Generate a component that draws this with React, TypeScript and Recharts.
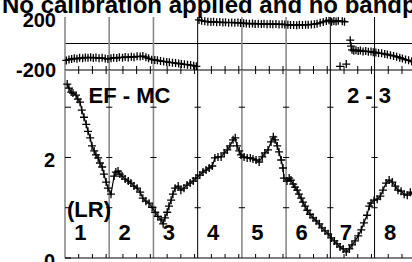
import { LineChart, Line, XAxis, YAxis, ReferenceLine } from "recharts";

const title = "No calibration applied and no bandpass applied";
const sections = ["1", "2", "3", "4", "5", "6", "7", "8"];
const baselineLabel = "EF - MC";
const pairLabel = "2 - 3";
const polLabel = "(LR)";

const phaseTicks = [-200, 200];
const ampTicks = [0, 1, 2, 3];
const ampTickLabels = ["0", "", "2", ""];

// phase (deg), null breaks the line at wraps
const phaseTime = [
  0.03, 0.09, 0.15, 0.21, 0.27, 0.33, 0.4, 0.46, 0.52, 0.58, 0.64, 0.7, 0.77, 0.84, 0.91, 0.97,
  1.04, 1.1, 1.17, 1.23, 1.3, 1.36, 1.43, 1.5, 1.56, 1.63, 1.7, 1.76, 1.83, 1.89, 1.96,
  2.03, 2.09, 2.16, 2.23, 2.3, 2.36, 2.43, 2.5, 2.57, 2.63, 2.7, 2.77, 2.84, 2.91, 2.97, 3.0,
  3.03, 3.09, 3.16, 3.23, 3.3, 3.36, 3.43, 3.5, 3.57, 3.63, 3.7, 3.77, 3.84, 3.91, 3.97,
  4.04, 4.1, 4.17, 4.24, 4.3, 4.37, 4.44, 4.5, 4.57, 4.64, 4.7, 4.77, 4.84, 4.91, 4.97,
  5.04, 5.1, 5.17, 5.24, 5.3, 5.37, 5.44, 5.5, 5.57, 5.64, 5.7, 5.77, 5.84, 5.91, 5.97,
  6.03, 6.08, 6.13, 6.18, 6.2, 6.22, 6.24, 6.27, 6.32, 6.34, 6.36, 6.4,
  6.45, 6.47, 6.49, 6.53, 6.58, 6.63, 6.68, 6.74, 6.8, 6.86, 6.92, 6.97,
  7.03, 7.09, 7.16, 7.23, 7.29, 7.36, 7.43, 7.5, 7.57, 7.63, 7.7, 7.77, 7.84, 7.9,
];
const phaseValue = [
  -128, -121, -117, -112, -115, -108, -111, -105, -108, -104, -109, -106, -112, -108, -114, -117,
  -112, -107, -110, -104, -107, -102, -105, -100, -103, -97, -99, -95, -103, -112, -122,
  -124, -127, -132, -135, -139, -142, -145, -148, -151, -154, -157, -160, -163, -167, -172, null,
  178, 172, 168, 164, 162, 164, 160, 162, 158, 160, 157, 159, 156, 158, 155,
  153, 151, 149, 151, 148, 150, 147, 149, 146, 148, 145, 147, 144, 146, 143,
  141, 139, 140, 138, 141, 139, 142, 141, 144, 146, 150, 156, 163, 170, 176,
  164, 170, 166, 172, null, -172, null, 168, 164, null, -155, null,
  25, -20, -48, -55, -50, -56, -53, -60, -57, -62, -61, -66,
  -68, -72, -74, -80, -83, -88, -94, -100, -107, -114, -121, -127, -134, -140,
];

// amplitude
const ampTime = [
  0.05, 0.09, 0.14, 0.18, 0.25, 0.29, 0.34, 0.38, 0.43, 0.48, 0.52, 0.57, 0.61, 0.66, 0.7, 0.75, 0.79, 0.84, 0.88, 0.93, 0.97, 1.04,
  1.11, 1.15, 1.2, 1.24, 1.29, 1.36, 1.43, 1.49, 1.56, 1.63, 1.7, 1.76, 1.83, 1.9, 1.97,
  2.04, 2.1, 2.17, 2.22, 2.26, 2.31, 2.35, 2.4, 2.44, 2.49, 2.56, 2.62, 2.69, 2.76, 2.83, 2.9, 2.96,
  3.05, 3.12, 3.19, 3.26, 3.33, 3.39, 3.46, 3.53, 3.6, 3.67, 3.73, 3.8, 3.85, 3.89, 3.94, 3.98,
  4.05, 4.12, 4.19, 4.25, 4.32, 4.39, 4.46, 4.52, 4.59, 4.66, 4.71, 4.75, 4.8, 4.84, 4.89, 4.93, 4.95,
  5.02, 5.07, 5.11, 5.16, 5.2, 5.25, 5.29, 5.34, 5.38, 5.43, 5.48, 5.54, 5.61, 5.68, 5.75, 5.81, 5.88, 5.95,
  6.02, 6.09, 6.15, 6.22, 6.29, 6.36, 6.43, 6.49, 6.56, 6.63, 6.7, 6.76, 6.83, 6.88, 6.92,
  6.99, 7.06, 7.13, 7.19, 7.26, 7.33, 7.4, 7.47, 7.53, 7.6, 7.67, 7.74, 7.81, 7.87,
];
const ampValue = [
  3.46, 3.38, 3.3, 3.28, 3.24, 3.16, 3.1, 2.94, 2.8, 2.66, 2.52, 2.39, 2.23, 2.13, 2.05, 1.99, 1.89, 1.81, 1.67, 1.51, 1.39, 1.27,
  1.63, 1.71, 1.73, 1.67, 1.63, 1.57, 1.53, 1.49, 1.43, 1.39, 1.31, 1.19, 1.13, 1.09, 1.01,
  0.91, 0.83, 0.76, 0.68, 0.8, 0.91, 1.03, 1.15, 1.27, 1.39, 1.43, 1.35, 1.39, 1.45, 1.49, 1.53, 1.59,
  1.65, 1.71, 1.75, 1.79, 1.83, 1.99, 2.01, 2.01, 2.09, 2.15, 2.23, 2.35, 2.39, 2.23, 2.13, 2.05,
  2.01, 1.99, 1.99, 1.97, 1.95, 1.91, 2.01, 2.09, 2.15, 2.31, 2.41, 2.35, 2.23, 2.11, 1.95, 1.79, 1.59,
  1.53, 1.59, 1.55, 1.47, 1.41, 1.35, 1.27, 1.19, 1.11, 1.03, 0.95, 0.87, 0.8, 0.74, 0.68, 0.6, 0.54, 0.48,
  0.4, 0.34, 0.28, 0.22, 0.18, 0.12, 0.18, 0.26, 0.34, 0.44, 0.56, 0.7, 0.85, 1.03, 1.09,
  1.15, 1.17, 1.23, 1.35, 1.49, 1.55, 1.51, 1.43, 1.35, 1.33, 1.27, 1.25, 1.31, 1.27,
];

const phaseData = phaseTime.map((t, i) => ({ t, v: phaseValue[i] }));
const ampData = ampTime.map((t, i) => ({ t, v: ampValue[i] }));

const FONT = "'Liberation Sans', Arial, Helvetica, sans-serif";
const LEFT = 65;
const UNIT = 44.22;
const boundaries = [0, 1, 2, 3, 4, 5, 6, 7, 8];
const blackLines = [3, 6, 7];
const xTicks = sections.flatMap((_, i) => [i + 0.31, i + 0.62, i + 0.93]);

// eslint-disable-next-line @typescript-eslint/no-explicit-any
const Cross = (props: any) => {
  const { cx, cy, index } = props;
  if (cx == null || cy == null || isNaN(cy)) return <g key={index} />;
  return (
    <path
      key={index}
      d={`M${cx - 4},${cy}h8M${cx},${cy - 4}v8`}
      stroke="#000"
      strokeWidth={1.3}
      fill="none"
    />
  );
};

const lineProps = (s: number) =>
  blackLines.includes(s)
    ? { stroke: "#000", strokeWidth: 1 }
    : { stroke: "#8a8a8a", strokeWidth: 1.6 };

export default function App() {
  return (
    <div
      style={{
        position: "absolute",
        left: 0,
        top: 0,
        width: 412,
        height: 262,
        overflow: "hidden",
        background: "#fff",
        fontFamily: FONT,
      }}
    >
      <div style={{ position: "absolute", left: 0, top: 0 }}>
        <LineChart width={463} height={80} data={phaseData} margin={{ top: 17, right: 0, bottom: 0, left: 0 }}>
          <XAxis
            xAxisId="top"
            orientation="top"
            dataKey="t"
            type="number"
            domain={[0, 9]}
            ticks={xTicks}
            interval={0}
            height={0}
            tickSize={0}
            tickMargin={0}
            axisLine={{ stroke: "#000" }}
            tickLine={false}
            // eslint-disable-next-line @typescript-eslint/no-explicit-any
            tick={(p: any) => <line x1={p.x} x2={p.x} y1={p.y} y2={p.y + 4} stroke="#000" />}
          />
          <XAxis
            dataKey="t"
            type="number"
            domain={[0, 9]}
            ticks={xTicks}
            interval={0}
            height={10}
            tickSize={0}
            tickMargin={0}
            axisLine={{ stroke: "#000" }}
            tickLine={false}
            // eslint-disable-next-line @typescript-eslint/no-explicit-any
            tick={(p: any) => <line x1={p.x} x2={p.x} y1={p.y - 4} y2={p.y + 4} stroke="#000" />}
          />
          <YAxis
            type="number"
            domain={[-200, 200]}
            ticks={phaseTicks}
            interval={0}
            width={LEFT}
            allowDataOverflow
            axisLine={false}
            tickLine={false}
            tickSize={0}
            tickMargin={0}
            // eslint-disable-next-line @typescript-eslint/no-explicit-any
            tick={(p: any) => (
              <text
                x={p.x - 9}
                y={p.y + (p.payload.value > 0 ? 10 : 7)}
                textAnchor="end"
                fontSize={20}
                fontWeight="bold"
                fontFamily={FONT}
                fill="#000"
              >
                {p.payload.value}
              </text>
            )}
          />
          <ReferenceLine y={0} stroke="#000" strokeWidth={1} />
          {boundaries.map((s) => (
            <ReferenceLine key={s} x={s} {...lineProps(s)} />
          ))}
          <Line
            dataKey="v"
            stroke="#000"
            strokeWidth={1}
            connectNulls={false}
            dot={Cross}
            activeDot={false}
            isAnimationActive={false}
          />
        </LineChart>
      </div>
      <div style={{ position: "absolute", left: 0, top: 70 }}>
        <LineChart width={463} height={200} data={ampData} margin={{ top: 0, right: 0, bottom: 0, left: 0 }}>
          <XAxis
            dataKey="t"
            type="number"
            domain={[0, 9]}
            ticks={xTicks}
            interval={0}
            height={12}
            tickSize={0}
            tickMargin={0}
            axisLine={{ stroke: "#000" }}
            tickLine={false}
            // eslint-disable-next-line @typescript-eslint/no-explicit-any
            tick={(p: any) => <line x1={p.x} x2={p.x} y1={p.y - 4} y2={p.y} stroke="#000" />}
          />
          <YAxis
            type="number"
            domain={[0, 3.74]}
            ticks={ampTicks}
            interval={0}
            width={LEFT}
            allowDataOverflow
            axisLine={false}
            tickLine={false}
            tickSize={0}
            tickMargin={0}
            // eslint-disable-next-line @typescript-eslint/no-explicit-any
            tick={(p: any) => (
              <g>
                <line x1={p.x} x2={p.x + 6} y1={p.y} y2={p.y} stroke="#000" />
                <text
                  x={p.x - 10}
                  y={p.y + 10}
                  textAnchor="end"
                  fontSize={20}
                  fontWeight="bold"
                  fontFamily={FONT}
                  fill="#000"
                >
                  {ampTickLabels[ampTicks.indexOf(p.payload.value)]}
                </text>
              </g>
            )}
          />
          {boundaries.map((s) => (
            <ReferenceLine key={s} x={s} {...lineProps(s)} />
          ))}
          {boundaries
            .filter((s) => s > 0)
            .flatMap((s) =>
              ampTicks
                .filter((v) => v > 0)
                .map((v) => (
                  <ReferenceLine
                    key={`${s}-${v}`}
                    segment={[
                      { x: s - 0.07, y: v },
                      { x: s + 0.07, y: v },
                    ]}
                    stroke="#000"
                    strokeWidth={1}
                  />
                ))
            )}
          <Line
            dataKey="v"
            stroke="#000"
            strokeWidth={1.2}
            dot={Cross}
            activeDot={false}
            isAnimationActive={false}
          />
        </LineChart>
      </div>
      <svg
        width={412}
        height={262}
        style={{ position: "absolute", left: 0, top: 0, pointerEvents: "none" }}
        fontFamily={FONT}
        fontWeight="bold"
        fill="#000"
      >
        <text x={2} y={12.7} fontSize={24}>
          {title}
        </text>
        <text x={88.5} y={102.5} fontSize={22}>
          {baselineLabel}
        </text>
        <text x={347} y={103} fontSize={22}>
          {pairLabel}
        </text>
        <text x={67} y={216.5} fontSize={22}>
          {polLabel}
        </text>
        {sections.map((s, i) => (
          <text key={s} x={LEFT + UNIT * (i + 0.35)} y={240} fontSize={22} textAnchor="middle">
            {s}
          </text>
        ))}
      </svg>
    </div>
  );
}
